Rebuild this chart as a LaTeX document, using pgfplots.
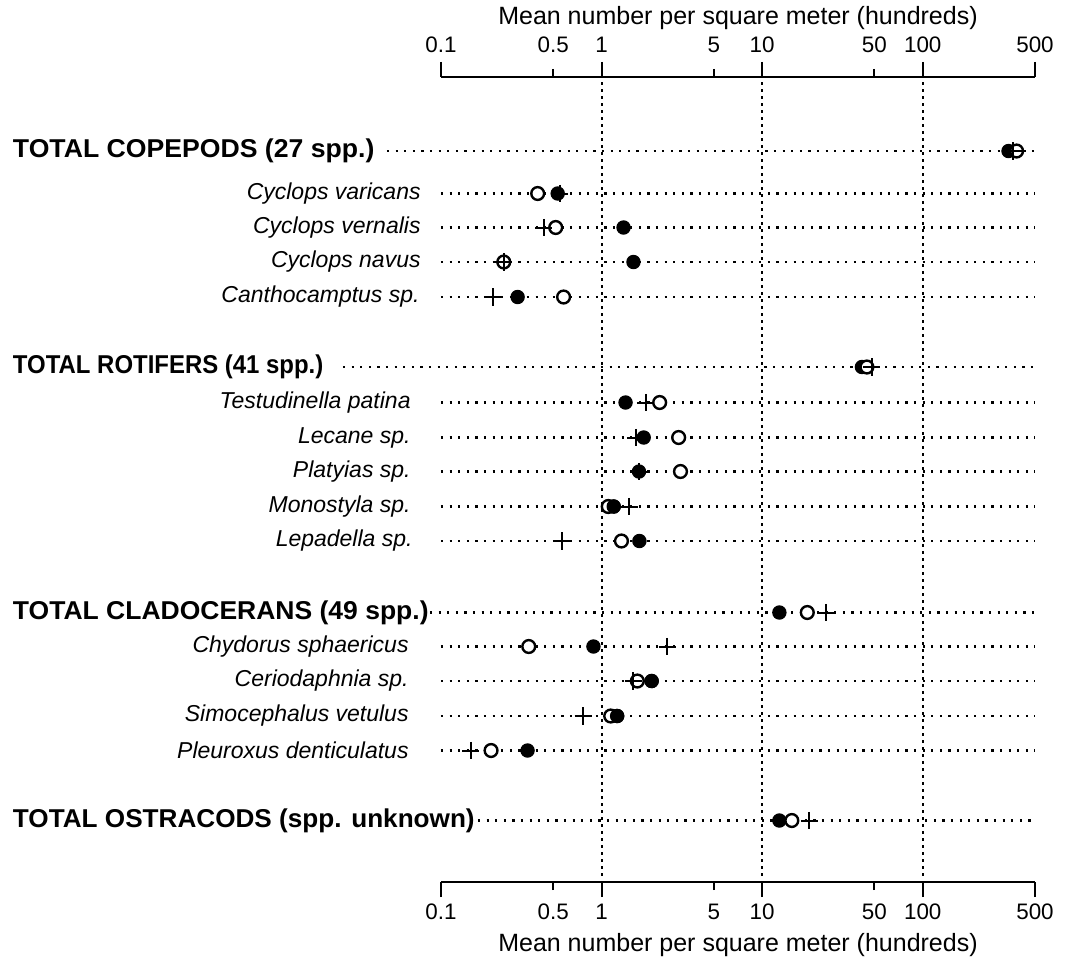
\documentclass[border=0pt]{standalone}
\usepackage{fontspec}
\setmainfont{Liberation Sans}
\usepackage{graphicx}
\usepackage{pgfplots}
\usepackage{pgfplotstable}
\pgfplotsset{compat=1.18}

% y = row position, f = filled circle, o = open circle, p = plus
\pgfplotstableread{
y     f     o     p
151   342   384   367
193.5 0.533 0.40  0.548
227.5 1.37  0.518 0.436
262   1.58  0.246 0.246
297   0.30  0.58  0.21
367   41.8  44.9  48
402.5 1.41  2.30  1.88
437.5 1.83  3.02  1.63
471.5 1.71  3.10  1.71
506.5 1.19  1.10  1.48
541   1.72  1.33  0.565
612.5 12.8  19.1  25.1
646.5 0.89  0.352 2.56
681   2.05  1.67  1.58
716   1.25  1.14  0.77
750.5 0.346 0.205 0.153
820.5 12.8  15.3  19.7
}\data

% filled circles that lie on top of the open ones
\pgfplotstableread{
y     f
506.5 1.19
681   2.05
716   1.25
}\ftop

\tikzset{
  hgrid/.style={line width=1.1pt, dash pattern=on 1.1pt off 3.2pt},
  vgrid/.style={line width=1pt, dash pattern=on 1.3pt off 2.2pt},
  spec/.style={anchor=east, inner sep=0pt, font=\fontsize{11.5}{13}\selectfont\itshape},
  tot/.style={anchor=west, inner sep=0pt, font=\fontsize{12.9}{15}\selectfont\bfseries},
}

\begin{document}
\begin{tikzpicture}
\begin{axis}[
  scale only axis, width=297pt, height=402.5pt,
  xmode=log, xmin=0.1, xmax=500,
  ymin=77, ymax=882, y dir=reverse,
  axis x line*=bottom, axis y line=none,
  clip=false,
  tick align=outside,
  xminorticks=false,
  xtick={0.1,1,10,100,500},
  xticklabels={0.1,1,10,100,500},
  extra x ticks={0.5,5,50},
  extra x tick labels={0.5,5,50},
  extra x tick style={major tick length=4pt, xticklabel style={yshift=-3.5pt}},
  major tick length=7.5pt,
  tick style={line width=1pt, black},
  axis line style={line width=1pt},
  xticklabel style={font=\fontsize{11.2}{13}\selectfont},
]
% vertical grid lines
\draw[vgrid] (axis cs:1,82) -- (axis cs:1,878);
\draw[vgrid] (axis cs:10,82) -- (axis cs:10,878);
\draw[vgrid] (axis cs:100,82) -- (axis cs:100,878);

% horizontal row lines
\draw[hgrid] ([xshift=-27pt]axis cs:0.1,151) -- (axis cs:500,151);
\draw[hgrid] (axis cs:0.1,193.5) -- (axis cs:500,193.5);
\draw[hgrid] (axis cs:0.1,227.5) -- (axis cs:500,227.5);
\draw[hgrid] (axis cs:0.1,262) -- (axis cs:500,262);
\draw[hgrid] (axis cs:0.1,297) -- (axis cs:500,297);
\draw[hgrid] ([xshift=-49pt]axis cs:0.1,367) -- (axis cs:500,367);
\draw[hgrid] (axis cs:0.1,402.5) -- (axis cs:500,402.5);
\draw[hgrid] (axis cs:0.1,437.5) -- (axis cs:500,437.5);
\draw[hgrid] (axis cs:0.1,471.5) -- (axis cs:500,471.5);
\draw[hgrid] (axis cs:0.1,506.5) -- (axis cs:500,506.5);
\draw[hgrid] (axis cs:0.1,541) -- (axis cs:500,541);
\draw[hgrid] ([xshift=-5.5pt]axis cs:0.1,612.5) -- (axis cs:500,612.5);
\draw[hgrid] (axis cs:0.1,646.5) -- (axis cs:500,646.5);
\draw[hgrid] (axis cs:0.1,681) -- (axis cs:500,681);
\draw[hgrid] (axis cs:0.1,716) -- (axis cs:500,716);
\draw[hgrid] (axis cs:0.1,750.5) -- (axis cs:500,750.5);
\draw[hgrid] ([xshift=18.5pt]axis cs:0.1,820.5) -- (axis cs:500,820.5);

% row labels
\node[tot] at ([xshift=-214.2pt]axis cs:0.1,151) {\scalebox{1.032}[1]{TOTAL COPEPODS (27 spp.)}};
\node[spec] at ([xshift=-10pt]axis cs:0.1,193.5) {Cyclops varicans};
\node[spec] at ([xshift=-10pt]axis cs:0.1,227.5) {Cyclops vernalis};
\node[spec] at ([xshift=-10pt]axis cs:0.1,262) {Cyclops navus};
\node[spec] at ([xshift=-10.5pt]axis cs:0.1,297) {Canthocamptus sp.};
\node[tot] at ([xshift=-214.2pt]axis cs:0.1,367) {\scalebox{0.928}[1]{TOTAL ROTIFERS (41 spp.)}};
\node[spec] at ([xshift=-15pt]axis cs:0.1,402.5) {Testudinella patina};
\node[spec] at ([xshift=-15pt]axis cs:0.1,437.5) {Lecane sp.};
\node[spec] at ([xshift=-15pt]axis cs:0.1,471.5) {Platyias sp.};
\node[spec] at ([xshift=-15pt]axis cs:0.1,506.5) {Monostyla sp.};
\node[spec] at ([xshift=-14pt]axis cs:0.1,541) {Lepadella sp.};
\node[tot] at ([xshift=-214.2pt]axis cs:0.1,612.5) {\scalebox{1.027}[1]{TOTAL CLADOCERANS (49 spp.)}};
\node[spec] at ([xshift=-16pt]axis cs:0.1,646.5) {Chydorus sphaericus};
\node[spec] at ([xshift=-16pt]axis cs:0.1,681) {Ceriodaphnia sp.};
\node[spec] at ([xshift=-16pt]axis cs:0.1,716) {Simocephalus vetulus};
\node[spec] at ([xshift=-16pt]axis cs:0.1,750.5) {Pleuroxus denticulatus};
\node[tot] at ([xshift=-214.2pt]axis cs:0.1,820.5) {\scalebox{1.013}[1]{TOTAL OSTRACODS (spp. unknown)}};

% data
\addplot[only marks, mark=*, mark size=3.3pt, mark options={fill=black, draw=black, line width=0.6pt}]
  table[x=f, y=y] {\data};
\addplot[only marks, mark=*, mark size=3.2pt, mark options={fill=white, draw=black, line width=1.2pt}]
  table[x=o, y=y] {\data};
\addplot[only marks, mark=*, mark size=3.3pt, mark options={fill=black, draw=black, line width=0.6pt}]
  table[x=f, y=y] {\ftop};
\addplot[only marks, mark=+, mark size=4.3pt, mark options={line width=1pt}]
  table[x=p, y=y] {\data};
\coordinate (SW) at (axis cs:0.1,882);
\coordinate (NE) at (axis cs:500,77);
\end{axis}

\begin{axis}[
  scale only axis, width=297pt, height=402.5pt,
  xmode=log, xmin=0.1, xmax=500,
  ymin=0, ymax=1,
  axis x line*=top, axis y line=none,
  clip=false,
  tick align=outside,
  xminorticks=false,
  xtick={0.1,1,10,100,500},
  xticklabels={0.1,1,10,100,500},
  extra x ticks={0.5,5,50},
  extra x tick labels={0.5,5,50},
  extra x tick style={major tick length=4pt, xticklabel style={yshift=3.5pt}},
  major tick length=7.5pt,
  tick style={line width=1pt, black},
  axis line style={line width=1pt},
  xticklabel style={font=\fontsize{11.2}{13}\selectfont, yshift=1pt},
]
\addplot[draw=none, forget plot] coordinates {(1,0.5)};
\node[font=\fontsize{12.5}{15}\selectfont] at ([yshift=29.5pt]axis cs:7.07,1) {Mean number per square meter (hundreds)};
\node[font=\fontsize{12.5}{15}\selectfont] at ([yshift=-31.5pt]axis cs:7.07,0) {Mean number per square meter (hundreds)};
\end{axis}
\pgfresetboundingbox
\path[use as bounding box] ([shift={(-220.5pt,-42pt)}]SW) rectangle ([shift={(15pt,38.5pt)}]NE);
\end{tikzpicture}
\end{document}
